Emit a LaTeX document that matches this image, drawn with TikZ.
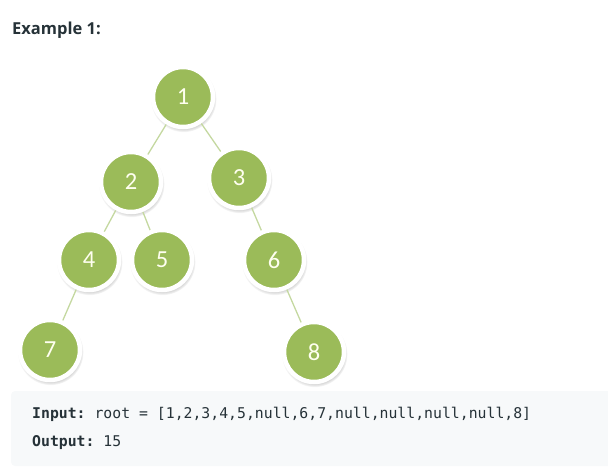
\documentclass[tikz,border=0pt]{standalone}
\usepackage{fontspec}
\usepackage[svgnames]{xcolor}
\usetikzlibrary{shadows}
\setmainfont{Open Sans}
\setmonofont{DejaVu Sans Mono}
\newfontfamily\digitfont{Carlito}
\definecolor{leafgreen}{HTML}{9BBB59}
\definecolor{branchgreen}{HTML}{C4D8A0}
\definecolor{codebg}{HTML}{F7F9FA}
\definecolor{inktext}{HTML}{263238}

\begin{document}
\begin{tikzpicture}[x=1pt, y=-1pt,
  treenode/.style={circle, fill=leafgreen, draw=white, line width=4.5pt, minimum size=60pt, inner sep=0pt,
    font=\digitfont\fontsize{24.5}{25}\selectfont, text=Ivory,
    circular drop shadow={shadow xshift=0.5pt, shadow yshift=-2pt, shadow scale=1.1, opacity=.45}},
  branch/.style={draw=branchgreen, line width=1.3pt},
  codeline/.style={anchor=base west, inner sep=0pt, text=inktext, font=\ttfamily\fontsize{14.8}{16}\selectfont}]
	\useasboundingbox (0,0) rectangle (608,470);
	\node (title) [anchor=base west, inner sep=0pt, text=inktext, font=\bfseries\fontsize{16.5}{18}\selectfont] at (12,35) {Example 1:};
	\node (n1) [treenode] at (183,97) {1};
	\node (n2) [treenode] at (131,182) {2};
	\node (n3) [treenode] at (239,178) {3};
	\node (n4) [treenode] at (89,260) {4};
	\node (n5) [treenode] at (162,260) {5};
	\node (n6) [treenode] at (274,260) {6};
	\node (n7) [treenode] at (50,350) {7};
	\node (n8) [treenode] at (314,352) {8};
	\draw[branch] (n1) -- (n2);
	\draw[branch] (n1) -- (n3);
	\draw[branch] (n2) -- (n4);
	\draw[branch] (n2) -- (n5);
	\draw[branch] (n3) -- (n6);
	\draw[branch] (n4) -- (n7);
	\draw[branch] (n6) -- (n8);
	\fill[codebg, rounded corners=4pt] (11,391) rectangle (616,466);
	\node (input) [codeline] at (32,418) {\textbf{Input:} root = [1,2,3,4,5,null,6,7,null,null,null,null,8]};
	\node (output) [codeline] at (32,446) {\textbf{Output:} 15};
\end{tikzpicture}
\end{document}
